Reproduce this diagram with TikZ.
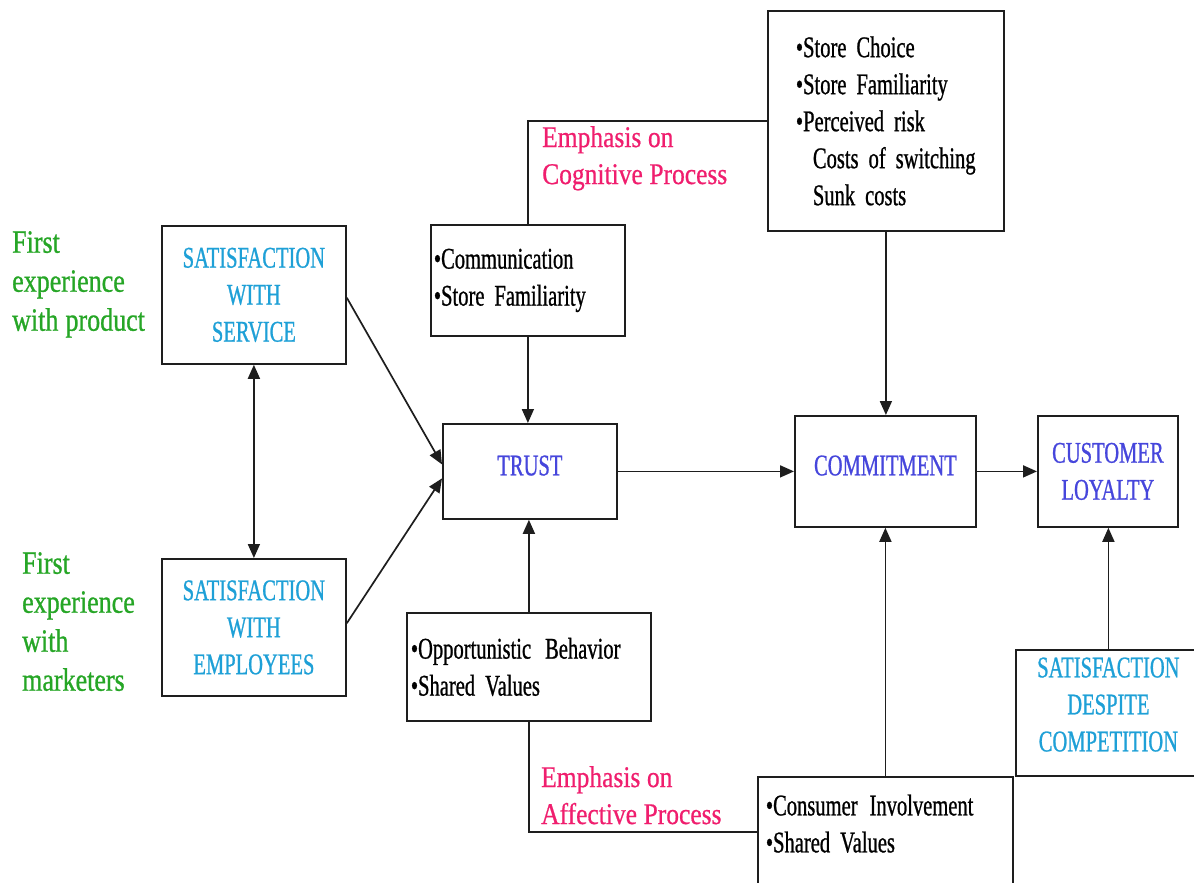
\documentclass[tikz,border=0pt]{standalone}
\usepackage{fontspec}
\setmainfont{Liberation Serif}[FakeStretch=0.685,FakeBold=0.8]
\newfontfamily\greenfont{Liberation Serif}[FakeStretch=0.8,FakeBold=0.8]
\newfontfamily\pinkfont{Liberation Serif}[FakeStretch=0.85,FakeBold=0.6]
\usetikzlibrary{arrows.meta,calc}
\definecolor{grn}{RGB}{38,166,38}
\definecolor{cyanc}{RGB}{30,160,215}
\definecolor{bluec}{RGB}{70,70,220}
\definecolor{pnk}{RGB}{240,30,110}
\definecolor{ln}{RGB}{30,30,30}
\newcommand{\tightsp}{\spaceskip=0.2em\relax}
\newcommand{\loosesp}{\spaceskip=0.22em\relax}
\newcommand{\boxfont}{\fontsize{30}{37}\selectfont\tightsp}
\newcommand{\grfont}{\greenfont\fontsize{32.5}{39}\selectfont\loosesp}
\newcommand{\pkfont}{\pinkfont\fontsize{30}{37}\selectfont\loosesp}
\newcommand{\lift}[1]{\rule[-#1]{0pt}{0pt}}
\begin{document}
\begin{tikzpicture}[x=1pt,y=-1pt,
  bxbase/.style={draw=ln, line width=1.8pt, inner sep=0pt, anchor=north west, fill=white},
  capbox/.style={bxbase, align=center, font=\boxfont},
  lstbox/.style={bxbase, align=left, font=\boxfont},
  conn/.style={draw=ln, line width=1.7pt},
  arr/.style={conn, -{Triangle[length=14pt,width=12pt]}},
  darr/.style={conn, {Triangle[length=14pt,width=12pt]}-{Triangle[length=14pt,width=12pt]}},
  gtext/.style={anchor=north west, inner sep=0pt, align=left, text=grn, font=\grfont},
  ptext/.style={anchor=north west, inner sep=0pt, align=left, text=pnk, font=\pkfont},
]
\useasboundingbox (0,0) rectangle (1194,883);
\clip (0,0) rectangle (1194,883);
\fill[white] (0,0) rectangle (1194,883);

% boxes
\node[capbox, text=cyanc, minimum width=184pt, minimum height=138pt] (sws) at (161,225) {SATISFACTION\\WITH\\SERVICE};
\node[capbox, text=cyanc, minimum width=184pt, minimum height=137pt] (swe) at (161,558) {SATISFACTION\\WITH\\EMPLOYEES};
\node[capbox, text=bluec, minimum width=174pt, minimum height=95pt] (trust) at (442,423) {TRUST\lift{12pt}};
\node[capbox, text=bluec, minimum width=181pt, minimum height=111pt] (commit) at (794,415) {COMMITMENT\lift{12pt}};
\node[capbox, text=bluec, minimum width=140pt, minimum height=111pt] (cl) at (1037,415) {CUSTOMER\\LOYALTY};
\node[capbox, text=cyanc, minimum width=185pt, minimum height=126pt] (sdc) at (1015,649) {\begin{tabular}{@{}c@{}}SATISFACTION\\DESPITE\\COMPETITION\lift{23pt}\end{tabular}};

\node[lstbox, text width=188pt, inner xsep=3pt, minimum height=111pt] (comm) at (430,224) {\textbullet Communication\\\textbullet Store Familiarity};
\node[lstbox, text width=180pt, inner xsep=28pt, minimum height=220pt] (store) at (767,10) {\textbullet Store Choice\\\textbullet Store Familiarity\\\textbullet Perceived risk\\\hspace*{17pt}Costs of switching\\\hspace*{17pt}Sunk costs};
\node[lstbox, text width=239pt, inner xsep=8pt, minimum height=110pt] (cons) at (757,776) {\begin{tabular}{@{}l@{}}\textbullet Consumer\hspace{12pt}Involvement\\\textbullet Shared Values\lift{22pt}\end{tabular}};
\node[lstbox, text width=236pt, inner xsep=4pt, minimum height=108pt] (opp) at (406,612) {\textbullet Opportunistic\hspace{14pt}Behavior\\\textbullet Shared Values};

% side labels
\node[gtext] (g1) at (12,231) {First\\experience\\with product};
\node[gtext] (g2) at (22,552) {First\\experience\\with\\marketers};
\node[ptext] (p1) at (542,126) {Emphasis on\\Cognitive Process};
\node[ptext] (p2) at (541,766) {Emphasis on\\Affective Process};

% connectors
\draw[darr] (sws.south) -- (swe.north);
\draw[arr] ($(sws.north east)!0.52!(sws.south east)$) -- ($(trust.west)+(0,-7)$);
\draw[arr] ($(swe.north east)!0.47!(swe.south east)$) -- ($(trust.west)+(0,7)$);
\draw[arr] (comm.south) -- (comm.south |- trust.north);
\draw[arr] (opp.north) -- (opp.north |- trust.south);
\draw[arr] (trust.east) -- (commit.west);
\draw[arr] (commit.east) -- (cl.west);
\draw[arr] (store.south) -- (store.south |- commit.north);
\draw[arr] (cons.north) -- (cons.north |- commit.south);
\draw[arr] (sdc.north) -- (sdc.north |- cl.south);
\draw[conn] (comm.north) |- (store.west);
\draw[conn] (opp.south) |- (cons.west);
\end{tikzpicture}
\end{document}
